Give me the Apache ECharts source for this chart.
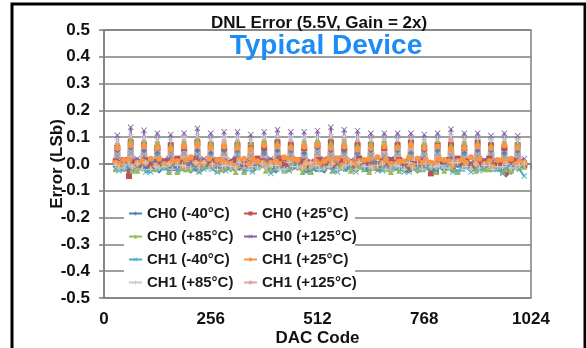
<!DOCTYPE html>
<html>
<head>
<meta charset="utf-8">
<script src="https://cdn.jsdelivr.net/npm/echarts@6/dist/echarts.min.js"></script>
<style>
  html, body { margin: 0; padding: 0; background: #fff; }
  #myChart { width: 586px; height: 348px; }
</style>
</head>
<body>
<div id="myChart"></div>
<script>
// series names (legend order: column 1 then column 2)
var names = ['CH0 (-40°C)', 'CH0 (+25°C)', 'CH0 (+85°C)', 'CH0 (+125°C)',
             'CH1 (-40°C)', 'CH1 (+25°C)', 'CH1 (+85°C)', 'CH1 (+125°C)']
var xTicks = [0, 256, 512, 768, 1024]

// DNL at the major-carry codes 32, 64, ... 992 (spikes)
var spikeCh0m40 = [0.05,0.06,0.05,0.04,0.05,0.06,0.05,0.04,0.05,0.05,0.06,0.04,0.05,0.05,0.04,0.06,0.05,0.05,0.04,0.05,0.06,0.05,0.04,0.05,0.05,0.06,0.04,0.05,0.05,0.04,0.05]
var spikeCh0p25 = [0.06,0.08,0.07,0.06,0.07,0.06,0.08,0.07,0.06,0.07,0.07,0.06,0.08,0.07,0.06,0.07,0.08,0.06,0.07,0.07,0.06,0.07,0.08,0.06,0.07,0.07,0.06,0.08,0.07,0.06,0.07]
var spikeCh0p85 = [0.07,0.09,0.08,0.08,0.07,0.08,0.09,0.08,0.07,0.08,0.08,0.09,0.08,0.07,0.08,0.09,0.08,0.08,0.07,0.08,0.09,0.07,0.08,0.08,0.09,0.07,0.08,0.08,0.07,0.08,0.08]
var spikeCh0p125 = [0.107,0.137,0.126,0.115,0.11,0.115,0.133,0.115,0.12,0.12,0.11,0.12,0.128,0.12,0.12,0.124,0.137,0.128,0.124,0.115,0.115,0.115,0.115,0.11,0.115,0.13,0.115,0.115,0.105,0.115,0.105]
var spikeCh1m40 = [0.03,0.04,0.03,0.035,0.03,0.04,0.03,0.03,0.04,0.035,0.03,0.04,0.03,0.035,0.03,0.04,0.03,0.035,0.04,0.03,0.03,0.04,0.035,0.03,0.04,0.03,0.035,0.03,0.04,0.03,0.035]
var spikeCh1p25 = [0.06,0.07,0.065,0.06,0.055,0.065,0.07,0.06,0.065,0.06,0.055,0.07,0.065,0.06,0.065,0.07,0.06,0.065,0.055,0.06,0.065,0.06,0.07,0.06,0.065,0.055,0.06,0.065,0.06,0.07,0.06]
var spikeCh1p85 = [0.09,0.11,0.1,0.095,0.09,0.1,0.11,0.095,0.1,0.1,0.09,0.1,0.105,0.1,0.1,0.1,0.11,0.105,0.1,0.095,0.095,0.095,0.095,0.09,0.095,0.11,0.095,0.095,0.09,0.095,0.09]
var spikeCh1p125 = [0.08,0.1,0.09,0.085,0.08,0.09,0.1,0.085,0.09,0.09,0.08,0.09,0.095,0.09,0.09,0.09,0.1,0.095,0.09,0.085,0.085,0.085,0.085,0.08,0.085,0.1,0.085,0.085,0.08,0.085,0.08]

// DNL just before / just after each spike: codes 28, 36, 60, 68, ... 988, 996
var baseCh0m40 = [-0.01,0.005,-0.015,-0.02,0.0,-0.01,0.01,-0.025,-0.005,0.0,-0.015,0.005,-0.02,-0.01,0.0,-0.005,-0.02,0.01,-0.01,-0.015,0.0,-0.02,0.005,-0.01,-0.025,0.0,-0.005,-0.015,0.01,-0.01,-0.02,0.0,
  -0.01,-0.015,0.005,-0.02,-0.005,0.0,-0.025,-0.01,0.01,-0.005,-0.015,-0.02,0.0,-0.01,0.005,-0.015,-0.025,0.0,-0.01,-0.005,-0.02,0.005,-0.015,-0.01,0.0,-0.02,-0.025,-0.04,-0.01,0.0]
var baseCh0p25 = [0.01,-0.01,-0.045,0.005,-0.005,0.015,-0.01,0.0,0.01,-0.015,0.005,-0.005,0.02,-0.01,0.0,0.01,-0.02,0.005,0.015,-0.005,0.0,-0.015,0.01,0.005,-0.01,0.02,0.0,-0.005,0.01,-0.02,0.005,0.015,
  0.0,-0.01,0.01,0.005,-0.015,0.02,-0.005,0.0,0.01,-0.01,0.005,0.015,-0.02,0.0,0.01,-0.005,-0.03,0.005,0.015,-0.01,0.0,0.01,-0.015,0.005,0.02,-0.005,0.0,-0.03,0.01,0.005]
var baseCh0p85 = [-0.02,-0.01,0.0,-0.025,-0.015,0.005,-0.02,-0.01,-0.03,0.0,-0.015,-0.02,-0.005,-0.025,-0.01,0.0,-0.02,-0.015,-0.03,-0.005,-0.01,-0.02,0.0,-0.025,-0.015,-0.01,-0.02,0.005,-0.03,-0.015,-0.01,-0.02,
  -0.005,-0.025,-0.015,0.0,-0.02,-0.01,-0.03,-0.015,-0.005,-0.02,-0.01,-0.025,0.0,-0.015,-0.02,-0.01,-0.03,-0.005,-0.015,-0.02,-0.01,0.0,-0.025,-0.015,-0.02,-0.01,-0.03,-0.02,-0.01,-0.015]
var baseCh0p125 = [0.0,0.01,-0.005,0.015,0.005,-0.01,0.01,0.0,0.02,-0.005,0.005,0.01,-0.01,0.015,0.0,0.005,0.01,-0.005,0.02,0.0,0.01,-0.01,0.005,0.015,0.0,-0.005,0.01,0.02,0.0,0.005,-0.01,0.01,
  0.015,0.0,0.005,-0.005,0.01,0.02,0.0,0.01,-0.005,0.015,0.005,0.0,0.01,-0.01,0.02,0.005,0.0,0.01,0.015,-0.005,0.005,0.01,0.0,0.02,-0.005,0.01,0.005,0.0,0.015,0.01]
var baseCh1m40 = [-0.015,-0.025,-0.01,-0.02,0.0,-0.03,-0.015,-0.005,-0.025,-0.01,-0.02,0.005,-0.015,-0.03,-0.01,-0.02,0.0,-0.025,-0.015,-0.005,-0.02,-0.03,-0.01,0.01,-0.02,-0.015,-0.025,-0.005,-0.01,-0.03,-0.015,-0.02,
  0.0,-0.025,-0.01,-0.02,-0.03,-0.005,-0.015,0.01,-0.025,-0.01,-0.02,-0.015,-0.03,0.0,-0.02,-0.01,-0.025,-0.015,-0.005,-0.03,-0.02,-0.01,-0.015,-0.025,0.0,-0.02,-0.035,-0.015,-0.01,-0.02]
var baseCh1p25 = [0.005,0.0,0.015,-0.01,0.01,0.005,-0.005,0.02,0.0,0.01,-0.01,0.015,0.005,0.0,0.02,-0.005,0.01,0.005,-0.01,0.015,0.0,0.02,0.005,-0.005,0.01,0.0,0.015,0.02,-0.01,0.005,0.01,0.0,
  0.02,0.005,-0.005,0.015,0.0,0.01,0.02,-0.01,0.005,0.015,0.0,0.01,0.025,-0.005,0.005,0.015,0.0,0.02,0.01,-0.005,0.015,0.005,0.0,0.02,0.01,-0.01,0.015,0.005,0.0,0.01]
var baseCh1p85 = [-0.005,-0.015,0.0,-0.01,-0.02,0.005,-0.01,-0.015,0.0,-0.02,-0.005,-0.01,0.005,-0.015,-0.02,0.0,-0.01,-0.005,-0.015,0.005,-0.02,-0.01,0.0,-0.015,-0.005,-0.02,0.005,-0.01,-0.015,0.0,-0.005,-0.02,
  -0.01,0.0,-0.015,-0.005,-0.02,0.005,-0.01,-0.015,0.0,-0.02,-0.005,-0.01,0.005,-0.015,-0.02,0.0,-0.01,-0.005,-0.015,0.005,-0.02,-0.01,0.0,-0.015,-0.005,-0.02,-0.01,0.0,-0.015,-0.005]
var baseCh1p125 = [0.0,-0.01,0.005,-0.005,0.01,-0.015,0.0,0.005,-0.01,0.01,-0.005,0.0,-0.015,0.005,0.01,-0.01,0.0,0.005,-0.005,-0.015,0.01,0.0,-0.01,0.005,0.0,-0.005,0.01,-0.015,0.005,0.0,-0.01,0.005,
  -0.005,0.01,0.0,-0.01,0.005,-0.015,0.0,0.01,-0.005,0.005,-0.01,0.0,0.01,-0.015,0.005,0.0,-0.005,0.01,-0.01,0.0,0.005,-0.015,0.01,0.0,-0.005,0.005,-0.01,0.0,0.01,-0.005]

// DNL midway between spikes: codes 48, 80, ... 1008
var midCh0m40 = [-0.02,-0.005,0.005,-0.015,-0.01,-0.025,0.0,-0.015,-0.02,0.005,-0.01,-0.02,-0.005,-0.015,0.0,-0.025,-0.01,-0.005,-0.02,0.0,-0.015,-0.01,-0.025,0.005,-0.02,-0.005,-0.015,-0.01,-0.02,-0.03,-0.01]
var midCh0p25 = [0.015,0.0,-0.01,0.01,0.02,-0.005,0.005,0.015,-0.01,0.0,0.02,0.01,-0.005,0.015,0.005,-0.01,0.02,0.0,0.01,-0.015,0.015,0.005,0.0,-0.035,0.01,0.02,-0.005,0.01,0.0,0.015,-0.005]
var midCh0p85 = [-0.01,-0.025,-0.015,-0.005,-0.03,-0.02,-0.01,-0.025,-0.015,-0.03,-0.005,-0.02,-0.025,-0.01,-0.03,-0.015,-0.005,-0.025,-0.02,-0.01,-0.03,-0.015,-0.02,-0.005,-0.025,-0.03,-0.01,-0.02,-0.015,-0.025,-0.01]
var midCh0p125 = [0.01,0.02,0.005,0.015,0.0,0.01,0.02,0.005,0.015,0.01,0.0,0.02,0.015,0.005,0.01,0.02,0.0,0.015,0.01,0.005,0.02,0.01,0.015,0.0,0.01,0.02,0.005,0.015,0.01,0.0,0.02]
var midCh1m40 = [-0.02,-0.01,-0.03,-0.015,-0.025,-0.005,-0.02,-0.03,-0.01,-0.025,-0.015,-0.035,-0.02,-0.005,-0.025,-0.015,-0.03,-0.01,-0.02,-0.025,-0.005,-0.03,-0.015,-0.02,-0.01,-0.025,-0.03,-0.015,-0.02,-0.01,-0.045]
var midCh1p25 = [0.015,0.005,0.02,0.0,0.01,0.025,0.005,0.015,0.0,0.02,0.01,0.005,0.025,0.015,0.0,0.01,0.02,0.005,0.015,0.025,0.0,0.01,0.02,0.005,0.015,0.01,0.025,0.0,0.015,0.02,0.005]
var midCh1p85 = [-0.015,0.0,-0.02,-0.01,-0.005,-0.015,0.005,-0.02,-0.01,0.0,-0.015,-0.005,-0.02,-0.01,0.005,-0.015,-0.02,0.0,-0.01,-0.005,-0.015,-0.02,0.0,-0.01,-0.015,0.005,-0.02,-0.005,-0.01,-0.015,0.0]
var midCh1p125 = [0.005,-0.01,0.01,-0.005,0.0,0.015,-0.01,0.005,0.0,-0.015,0.01,0.005,-0.005,0.01,-0.01,0.0,0.015,-0.005,0.005,-0.01,0.01,0.0,-0.015,0.005,0.01,-0.005,0.0,0.01,-0.01,0.005,0.0]

var spikes = [spikeCh0m40, spikeCh0p25, spikeCh0p85, spikeCh0p125, spikeCh1m40, spikeCh1p25, spikeCh1p85, spikeCh1p125]
var bases = [baseCh0m40, baseCh0p25, baseCh0p85, baseCh0p125, baseCh1m40, baseCh1p25, baseCh1p85, baseCh1p125]
var mids = [midCh0m40, midCh0p25, midCh0p85, midCh0p125, midCh1m40, midCh1p25, midCh1p85, midCh1p125]

var colors = ['#4f81bd', '#c0504d', '#9bbb59', '#8064a2', '#4bacc6', '#f79646', '#c3cbd9', '#e0a6a2']
var xMark = 'path://M0,1L1,0L5,4L9,0L10,1L6,5L10,9L9,10L5,6L1,10L0,9L4,5Z'
var plusMark = 'path://M4,0H6V4H10V6H6V10H4V6H0V4H4Z'
var symbols = ['diamond', 'rect', 'triangle', xMark, xMark, 'circle', plusMark, 'none']

// merge: before-point, spike, after-point, midpoint for each carry code
function buildData (base, spike, mid) {
  var pts = []
  for (var k = 0; k < spike.length; k++) {
    var c = 32 * (k + 1)
    if (base[2 * k] !== undefined) pts.push([c - 4, base[2 * k]])
    pts.push([c, spike[k]])
    if (base[2 * k + 1] !== undefined) pts.push([c + 4, base[2 * k + 1]])
    if (mid[k] !== undefined) pts.push([c + 16, mid[k]])
  }
  return pts
}

var series = names.map(function (n, k) {
  return {
    name: n,
    type: 'line',
    data: buildData(bases[k], spikes[k], mids[k]),
    symbol: symbols[k],
    symbolSize: 6,
    showSymbol: symbols[k] !== 'none',
    lineStyle: { color: colors[k], width: k === 7 ? 5 : 2 },
    itemStyle: { color: colors[k] },
    z: 3
  }
})

var axisGray = '#7f7f7f'
var font = 'Liberation Sans, Arial, sans-serif'

var options = {
  backgroundColor: '#fff',
  animation: false,
  color: colors,
  title: [
    {
      text: 'DNL Error (5.5V, Gain = 2x)',
      left: 314, top: 10, textAlign: 'center',
      textStyle: { fontFamily: font, fontWeight: 'bold', fontSize: 17, color: '#111' }
    },
    {
      text: 'Typical Device',
      left: 321, top: 27, textAlign: 'center',
      textStyle: { fontFamily: font, fontWeight: 'bold', fontSize: 28, color: '#1e8cf5' }
    }
  ],
  grid: {
    left: 104, right: 55, top: 30, bottom: 50,
    outerBoundsMode: 'none',
    show: true, borderColor: axisGray, borderWidth: 1.5
  },
  legend: [
    {
      data: [names[0], names[2], names[4], names[6]],
      orient: 'vertical', left: 128, top: 206, padding: 0,
      itemWidth: 13, itemHeight: 5, itemGap: 8,
      textStyle: { fontFamily: font, fontWeight: 'bold', fontSize: 15, color: '#1a1a1a' }
    },
    {
      data: [names[1], names[3], names[5], names[7]],
      orient: 'vertical', left: 243, top: 206, padding: 0,
      itemWidth: 13, itemHeight: 5, itemGap: 8,
      textStyle: { fontFamily: font, fontWeight: 'bold', fontSize: 15, color: '#1a1a1a' }
    }
  ],
  xAxis: {
    type: 'value', min: 0, max: 1024, interval: 256,
    name: 'DAC Code', nameLocation: 'middle', nameGap: 32, nameMoveOverlap: false,
    nameTextStyle: { fontFamily: font, fontWeight: 'bold', fontSize: 17, color: '#111' },
    axisLine: { lineStyle: { color: axisGray, width: 1.5 } },
    axisTick: { show: true, length: 5, lineStyle: { color: axisGray, width: 1.5 } },
    axisLabel: {
      margin: 13, fontFamily: font, fontWeight: 'bold', fontSize: 17, color: '#111',
      formatter: function (v) { return xTicks.indexOf(v) >= 0 ? String(v) : '' }
    },
    splitLine: { show: false }
  },
  yAxis: {
    type: 'value', min: -0.5, max: 0.5, interval: 0.1,
    name: 'Error (LSb)', nameLocation: 'middle', nameGap: 38, nameMoveOverlap: false,
    nameTextStyle: { fontFamily: font, fontWeight: 'bold', fontSize: 17, color: '#111' },
    axisLine: { show: true, lineStyle: { color: axisGray, width: 1.5 } },
    axisTick: { show: true, length: 5, lineStyle: { color: axisGray, width: 1.5 } },
    axisLabel: {
      margin: 14, fontFamily: font, fontWeight: 'bold', fontSize: 17, color: '#111',
      formatter: function (v) { return Math.abs(v) < 1e-9 ? '0.0' : v.toFixed(1) }
    },
    splitLine: { show: true, lineStyle: { color: axisGray, width: 1.5 } }
  },
  graphic: [
    // white box behind the legend
    { type: 'rect', z: 1, shape: { x: 124, y: 200, width: 231, height: 92 }, style: { fill: '#fff' } },
    // outer frame
    { type: 'rect', z: 10, shape: { x: 12, y: 4, width: 573, height: 360 }, style: { fill: 'none', stroke: '#000', lineWidth: 3 } }
  ],
  series: series
}

var myChart = echarts.init(document.getElementById('myChart'))
myChart.setOption(options)
</script>
</body>
</html>
